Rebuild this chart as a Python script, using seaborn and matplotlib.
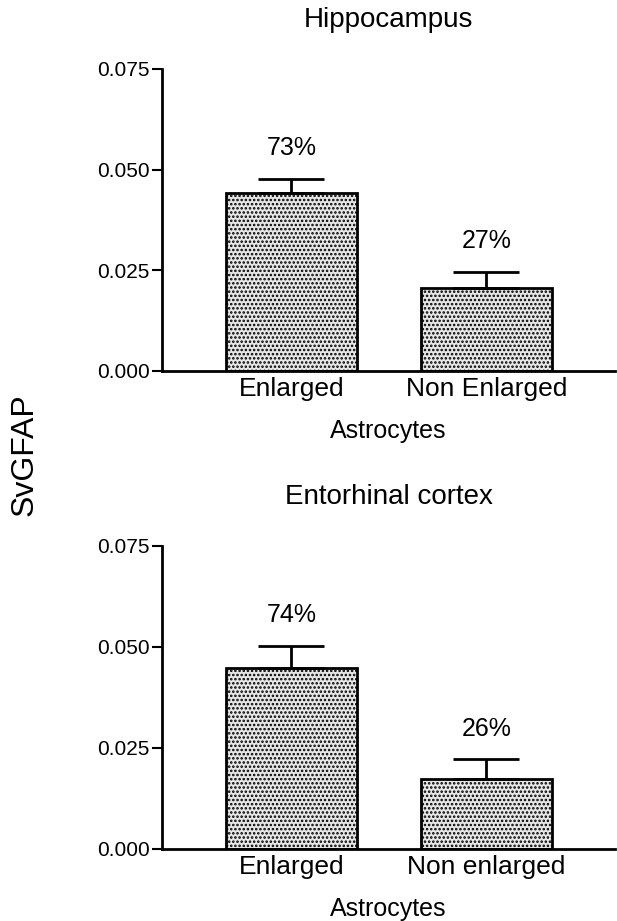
import matplotlib
matplotlib.use("Agg")
import matplotlib.pyplot as plt
import seaborn as sns

# values
categories_hip = ["Enlarged", "Non Enlarged"]
categories_ent = ["Enlarged", "Non enlarged"]
hip_means = [0.0442, 0.0206]
hip_sem = [0.0035, 0.0040]
ent_means = [0.0449, 0.0174]
ent_sem = [0.0054, 0.0048]
hip_pct = ["73%", "27%"]
ent_pct = ["74%", "26%"]
y_ticks = [0.0, 0.025, 0.050, 0.075]
y_ticklabels = ["0.000", "0.025", "0.050", "0.075"]

sns.set_style("ticks")
plt.rcParams['font.family'] = ['Liberation Sans', 'DejaVu Sans']
plt.rcParams['text.color'] = 'black'
plt.rcParams['axes.labelcolor'] = 'black'
plt.rcParams['xtick.color'] = 'black'
plt.rcParams['ytick.color'] = 'black'
plt.rcParams['axes.edgecolor'] = 'black'
plt.rcParams['hatch.linewidth'] = 1.2


def draw_panel(ax, cats, means, sem, pct, title):
    sns.barplot(x=cats, y=means, ax=ax, color="#e6e6e6", edgecolor="black",
                linewidth=2, width=0.67, errorbar=None, hatch="....")
    ax.errorbar(range(len(cats)), means, yerr=[[0] * len(sem), sem], fmt="none",
                ecolor="black", elinewidth=2, capsize=24, capthick=2)
    for i, p in enumerate(pct):
        ax.annotate(p, (i, means[i] + sem[i]), xytext=(0, 22), textcoords="offset points",
                    ha="center", va="center", fontsize=18)
    ax.set_ylim(0, 0.075)
    ax.set_xlim(-0.664, 1.66)
    ax.set_yticks(y_ticks)
    ax.set_yticklabels(y_ticklabels, fontsize=15)
    ax.tick_params(axis="y", length=7, width=1.5, pad=2)
    ax.tick_params(axis="x", length=0, pad=4, labelsize=19)
    ax.set_xlabel("Astrocytes", fontsize=18, labelpad=13)
    ax.set_title(title, fontsize=20, pad=30)
    sns.despine(ax=ax)
    for s in ["left", "bottom"]:
        ax.spines[s].set_linewidth(2)


fig = plt.figure(figsize=(6.17, 9.21), dpi=100)
ax1 = fig.add_axes([0.2626, 0.5972, 0.7342, 0.3279])
ax2 = fig.add_axes([0.2626, 0.0782, 0.7342, 0.3290])

draw_panel(ax1, categories_hip, hip_means, hip_sem, hip_pct, "Hippocampus")
draw_panel(ax2, categories_ent, ent_means, ent_sem, ent_pct, "Entorhinal cortex")

fig.text(25 / 617, 1 - 455 / 921, "SvGFAP", rotation=90, ha="center", va="center", fontsize=23)

fig.savefig("out.png", dpi=100)
